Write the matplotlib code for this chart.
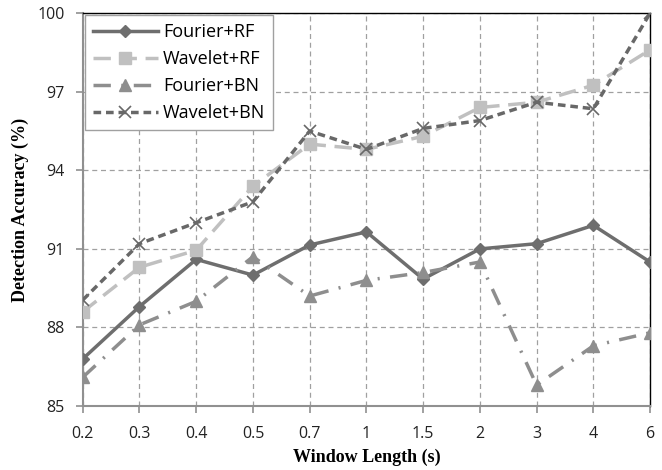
import matplotlib.pyplot as plt
import numpy as np

# window lengths (categorical x axis)
windows = ['0.2', '0.3', '0.4', '0.5', '0.7', '1', '1.5', '2', '3', '4', '6']

fourier_rf = [86.8, 88.8, 90.6, 90.0, 91.15, 91.65, 89.85, 91.0, 91.2, 91.9, 90.5]
wavelet_rf = [88.6, 90.3, 90.95, 93.4, 95.0, 94.8, 95.3, 96.4, 96.6, 97.25, 98.6]
fourier_bn = [86.1, 88.1, 89.0, 90.7, 89.2, 89.8, 90.1, 90.5, 85.8, 87.3, 87.8]
wavelet_bn = [89.05, 91.2, 92.0, 92.8, 95.5, 94.8, 95.6, 95.9, 96.6, 96.35, 100.0]

x = np.arange(len(windows))

fig = plt.figure(figsize=(6.62, 4.70), dpi=100)
ax = fig.add_axes([0.125, 0.136, 0.857, 0.836])

ax.plot(x, fourier_rf, color='#6e6e6e', lw=2.5, marker='D', ms=6,
        label='Fourier+RF', zorder=3)
ax.plot(x, wavelet_rf, color='#c0c0c0', lw=2.5, ls=(0, (5, 2.5)), marker='s',
        ms=8, label='Wavelet+RF', zorder=3)
ax.plot(x, fourier_bn, color='#8e8e8e', lw=2.5, ls=(0, (5, 3, 0.6, 3)),
        marker='^', ms=9, label='Fourier+BN', zorder=3)
ax.plot(x, wavelet_bn, color='#686868', lw=2.5, ls=(0, (2.2, 1.4)), marker='x',
        ms=9, mew=1.2, label='Wavelet+BN', zorder=4)

ax.set_xlim(0, len(windows) - 1)
ax.set_ylim(85, 100)
ax.set_xticks(x)
ax.set_xticklabels(windows)
ax.set_yticks([85, 88, 91, 94, 97, 100])

ax.grid(True, ls=(0, (4, 3)), color='#a0a0a0', lw=0.9)
ax.set_axisbelow(True)

for s in ['left', 'bottom']:
    ax.spines[s].set_color('#909090')
    ax.spines[s].set_linewidth(1.5)
for s in ['top', 'right']:
    ax.spines[s].set_color('black')
    ax.spines[s].set_linewidth(1.0)

ax.tick_params(axis='both', colors='#909090', labelcolor='#222222',
               labelsize=11.5, length=5, width=1.2)
ax.tick_params(axis='x', pad=9)
ax.tick_params(axis='y', pad=8)
for lab in ax.get_xticklabels() + ax.get_yticklabels():
    lab.set_family('Open Sans')

ax.set_xlabel('Window Length (s)', family='Liberation Serif',
              fontweight='bold', fontsize=13, labelpad=5)
ax.set_ylabel('Detection Accuracy (%)', family='Liberation Serif',
              fontweight='bold', fontsize=13, labelpad=6)

leg = ax.legend(loc='upper left', fancybox=False, framealpha=1,
                edgecolor='#a0a0a0', handlelength=3.6, borderaxespad=0.1,
                prop={'family': 'Open Sans', 'size': 13}, labelspacing=0.5,
                handletextpad=0.3, borderpad=0.45)
leg.get_frame().set_linewidth(1.0)
leg.set_zorder(10)

fig.savefig('out.png', dpi=100)
